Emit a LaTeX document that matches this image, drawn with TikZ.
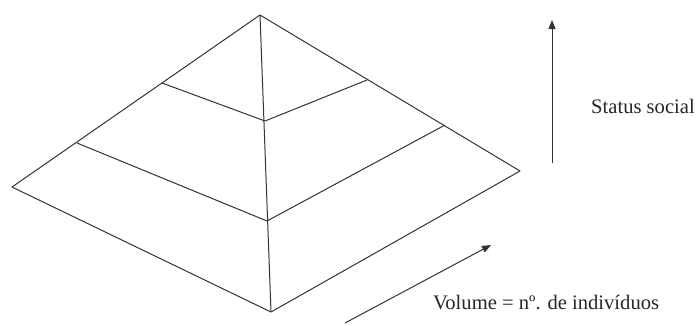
\documentclass[tikz,border=0pt]{standalone}
\usepackage{fontspec}
\setmainfont{Liberation Serif}
\usetikzlibrary{arrows.meta}
\begin{document}
\begin{tikzpicture}[x=1pt,y=-1pt,
  edge/.style={line width=1pt,draw=black!80,line join=round},
  axis/.style={line width=1pt,draw=black!80,-{Triangle[length=9pt,width=7pt]}},
  lbl/.style={font=\fontsize{20.6}{24}\selectfont,text=black!85,inner sep=0pt,anchor=base west}]
\useasboundingbox (0,0) rectangle (700,325);
% pyramid corners
\coordinate (apex) at (260,15);
\coordinate (L) at (12,187);
\coordinate (B) at (271,312);
\coordinate (R) at (520,171);
% level 1
\coordinate (l1) at (162,83);
\coordinate (c1) at (265,121);
\coordinate (r1) at (367,80);
% level 2
\coordinate (l2) at (77,143);
\coordinate (c2) at (267,221);
\coordinate (r2) at (445,125);
\draw[edge] (apex) -- (L) -- (B) -- (R) -- cycle;
\draw[edge] (apex) -- (B);
\draw[edge] (l1) -- (c1) -- (r1);
\draw[edge] (l2) -- (c2) -- (r2);
% axes
\coordinate (s0) at (552,163);
\coordinate (s1) at (552,20);
\draw[axis] (s0) -- (s1);
\coordinate (v0) at (345,323);
\coordinate (v1) at (491,245);
\draw[axis] (v0) -- (v1);
\node[lbl] (status) at (591,113) {Status social};
\node[lbl] (volume) at (433,309) {Volume = nº. de indivíduos};
\end{tikzpicture}
\end{document}
